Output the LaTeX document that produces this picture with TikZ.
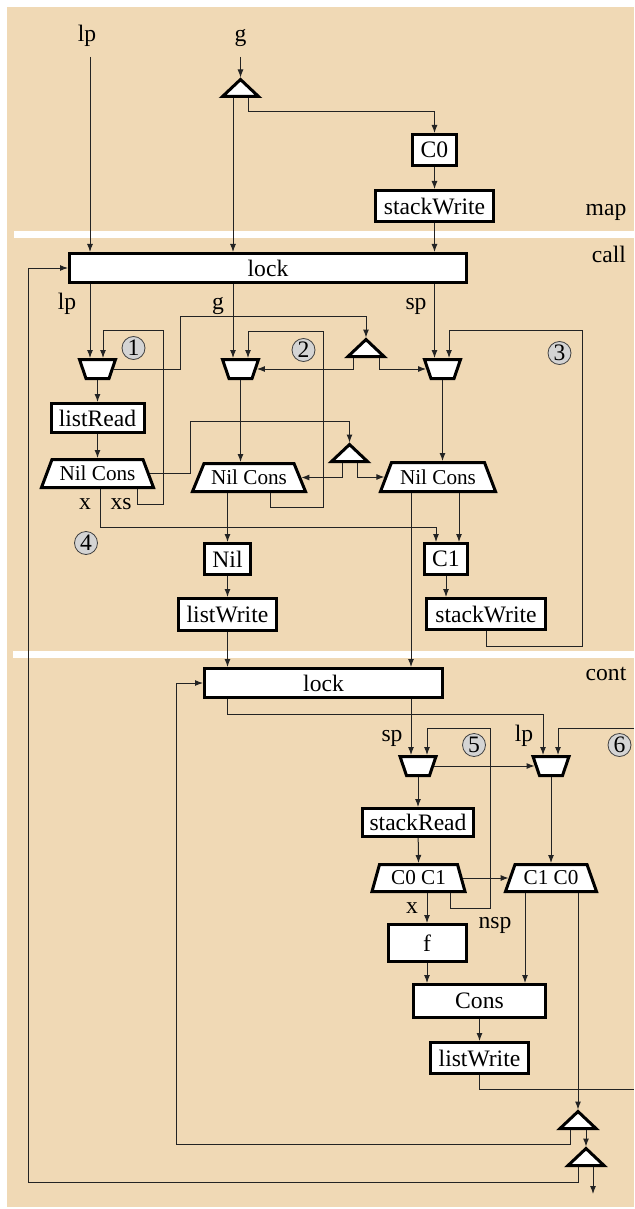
\documentclass[tikz,border=0pt]{standalone}
\usepackage{fontspec}
\setmainfont{Liberation Serif}
\usetikzlibrary{arrows.meta}
\definecolor{tanbg}{RGB}{240,217,181}
\definecolor{wirec}{RGB}{35,35,35}
\definecolor{circfill}{RGB}{212,212,212}
\newcommand\fsA{\fontsize{11.8pt}{14pt}\selectfont}
\newcommand\fsB{\fontsize{10.6pt}{12pt}\selectfont}
% mux: wider top
\newcommand\muxM[3]{%
 \draw[shp] ({#2-18},{#3-9.5}) -- ({#2+18},{#3-9.5}) -- ({#2+11.5},{#3+9.5}) -- ({#2-11.5},{#3+9.5}) -- cycle;
 \coordinate (#1) at (#2,#3);
 \coordinate (#1t) at (#2,{#3-11});
 \coordinate (#1b) at (#2,{#3+11});
 \coordinate (#1l) at ({#2-16.4},#3);
 \coordinate (#1r) at ({#2+16.4},#3);}
% demux: wider bottom
\newcommand\demuxD[7]{%
 \draw[shp] ({#2-#4},{#3-#6}) -- ({#2+#4},{#3-#6}) -- ({#2+#5},{#3+#6}) -- ({#2-#5},{#3+#6}) -- cycle;
 \node[dtxt] (#1) at (#2,#3) {#7};
 \coordinate (#1t) at (#2,{#3-#6-1.5});
 \coordinate (#1b) at (#2,{#3+#6+1.5});
 \coordinate (#1l) at ({#2-(#4+#5)/2-1.6},#3);
 \coordinate (#1r) at ({#2+(#4+#5)/2+1.6},#3);}
% triangle pointing up
\newcommand\triT[3]{%
 \draw[shp] ({#2-18},#3) -- (#2,{#3-17}) -- ({#2+18},#3) -- cycle;
 \coordinate (#1) at (#2,{#3-8});
 \coordinate (#1a) at (#2,{#3-19});
 \coordinate (#1c) at (#2,{#3+1.5});}
\begin{document}
\begin{tikzpicture}[x=0.5pt,y=-0.5pt,
  shp/.style={draw=black,line width=1.5pt,fill=white,line join=miter},
  box/.style={draw=black,line width=1.5pt,fill=white,inner sep=0pt,font=\fsA},
  dtxt/.style={inner sep=0pt,font=\fsB},
  lbl/.style={inner sep=0pt,anchor=base,font=\fsA},
  circ/.style={circle,draw=black!75,line width=0.4pt,fill=circfill,inner sep=0pt,minimum size=11.5pt,font=\fsA},
  w/.style={draw=wirec,line width=0.5pt},
  arr/.style={w,-{Latex[length=4pt,width=3pt]}}]
\useasboundingbox (0,0) rectangle (634,1209);
% background
\fill[tanbg] (7,7) rectangle (634,1207);
\fill[white] (14,231) rectangle (634,238);
\fill[white] (13,651) rectangle (634,658);

% section labels
\node[lbl] (lmap) at (606,216) {map};
\node[lbl] (lcall) at (609,263) {call};
\node[lbl] (lcont) at (606,680) {cont};

% ---------- boxes ----------
\node[box,minimum width=22pt,minimum height=15.5pt] (C0) at (434.5,150) {C0};
\node[box,minimum width=59pt,minimum height=15.5pt] (SW0) at (434.5,206) {stackWrite};
\node[box,minimum width=198.5pt,minimum height=14.5pt] (lockA) at (268,268) {lock};
\node[box,minimum width=46.5pt,minimum height=14.5pt] (listRead) at (97.5,418) {listRead};
\node[box,minimum width=23pt,minimum height=15.5pt] (Nil) at (227.5,559) {Nil};
\node[box,minimum width=49pt,minimum height=16pt] (LW1) at (227.5,614.5) {listWrite};
\node[box,minimum width=21.5pt,minimum height=15.5pt] (C1) at (446,559) {C1};
\node[box,minimum width=59.5pt,minimum height=15.5pt] (SW1) at (486,614) {stackWrite};
\node[box,minimum width=119pt,minimum height=14.5pt] (lockB) at (323.5,683) {lock};
\node[box,minimum width=55.5pt,minimum height=14pt] (stackRead) at (418,822.5) {stackRead};
\node[box,minimum width=39pt,minimum height=18.5pt] (f) at (427,943) {f};
\node[box,minimum width=66pt,minimum height=16.5pt] (Cons) at (479.5,1001) {Cons};
\node[box,minimum width=49pt,minimum height=15.5pt] (LW2) at (479.5,1058) {listWrite};

% ---------- muxes, demuxes, triangles ----------
\muxM{M1}{97.5}{369}
\muxM{M2}{240.5}{369}
\muxM{M3}{442.5}{369}
\muxM{M5}{418}{766}
\muxM{M6}{551}{766}
\demuxD{NC1}{97.5}{473.5}{45.5}{56}{14}{Nil Cons}
\demuxD{NC2}{249}{477.5}{45}{56.5}{14}{Nil Cons}
\demuxD{NC3}{438}{477}{46.5}{57.5}{14.5}{Nil Cons}
\demuxD{C01}{418.5}{878}{39}{46.5}{13.5}{C0 C1}
\demuxD{C10}{551}{878}{36}{45.5}{13.5}{C1 C0}
\triT{TG}{240.5}{96.5}
\triT{T1}{366}{356.5}
\triT{T2}{349.5}{461.5}
\triT{B1}{578}{1128.5}
\triT{B2}{586}{1165.5}

% ---------- circled numbers ----------
\node[circ] (n1) at (133.5,348) {1};
\node[circ] (n2) at (303.5,350) {2};
\node[circ] (n3) at (559.5,353) {3};
\node[circ] (n4) at (86,543) {4};
\node[circ] (n5) at (474,745) {5};
\node[circ] (n6) at (619.5,745) {6};

% ---------- labels ----------
\node[lbl] (tlp) at (87,42) {lp};
\node[lbl] (tg) at (240.5,42) {g};
\node[lbl] (clp) at (67,309) {lp};
\node[lbl] (cg) at (218,309) {g};
\node[lbl] (csp) at (416,309) {sp};
\node[lbl] (cx) at (85,509) {x};
\node[lbl] (cxs) at (121,509) {xs};
\node[lbl] (ksp) at (392,741) {sp};
\node[lbl] (klp) at (524,741) {lp};
\node[lbl] (kx) at (412,913) {x};
\node[lbl] (knsp) at (495,928) {nsp};

% ---------- free ends ----------
\coordinate (lpin) at (90,57);
\coordinate (gin) at (240.5,57);
\coordinate (rin1) at (634,728);
\coordinate (rout1) at (634,1089);
\coordinate (bout) at (593,1194);

% ---------- map wires ----------
\draw[arr] (lpin) -- (lpin |- lockA.north);
\draw[arr] (gin) -- (TGa);
\draw[arr] (TGc -| 233,0) -- (lockA.north -| 233,0);
\draw[arr] (TGc -| 248,0) |- (434.5,112) -- (C0.north);
\draw[arr] (C0) -- (SW0);
\draw[arr] (SW0.south) -- (SW0.south |- lockA.north);

% ---------- call wires ----------
\draw[arr] (B2c -| 578,0) |- (28,1182) |- (lockA.west);
\draw[arr] (lockA.south -| 90,0) -- (M1t -| 90,0);
\draw[arr] (lockA.south -| 233,0) -- (M2t -| 233,0);
\draw[arr] (lockA.south -| 434.5,0) -- (M3t -| 434.5,0);
\draw[arr] (NC1b -| 137,0) |- (163,504) |- (103,330) -- (M1t -| 103,0);
\draw[arr] (M1r) -| (180,316) -| (T1a);
\draw[arr] (T1c -| 353,0) |- (M2r);
\draw[arr] (T1c -| 379,0) |- (M3l);
\draw[arr] (M1b) -- (listRead);
\draw[arr] (listRead) -- (NC1t);
\draw[arr] (NC1r) -| (190,421) -| (T2a);
\draw[arr] (T2c -| 342,0) |- (NC2r);
\draw[arr] (T2c -| 357,0) |- (NC3l);
\draw[arr] (M2b) -- (M2b |- NC2t);
\draw[arr] (NC2b -| 270,0) |- (323,507) |- (248,331) -- (M2t -| 248,0);
\draw[arr] (M3b) -- (M3b |- NC3t);
\draw[arr] (SW1.south) |- (582,646) |- (449,330) -- (M3t -| 449,0);
\draw[arr] (NC1b -| 100,0) |- (436,527) -- (C1.north -| 436,0);
\draw[arr] (NC2b -| 227.5,0) -- (Nil);
\draw[arr] (Nil) -- (LW1);
\draw[arr] (LW1.south) -- (LW1.south |- lockB.north);
\draw[arr] (NC3b -| 459,0) -- (C1.north -| 459,0);
\draw[arr] (NC3b -| 411,0) -- (lockB.north -| 411,0);
\draw[arr] (C1.south) -- (SW1.north -| C1.south);

% ---------- cont wires ----------
\draw[arr] (B1c -| 570,0) |- (176,1144) |- (lockB.west);
\draw[arr] (lockB.south -| 227.5,0) |- (543,714) -- (M6t -| 543,0);
\draw[arr] (lockB.south -| 411,0) -- (M5t -| 411,0);
\draw[arr] (C01b -| 450,0) |- (490,908) |- (427,728) -- (M5t -| 427,0);
\draw[arr] (rin1) -| (M6t -| 558,0);
\draw[arr] (M5r) -- (M6l);
\draw[arr] (M5b) -- (stackRead);
\draw[arr] (stackRead) -- (C01t);
\draw[arr] (C01r) -- (C10l);
\draw[arr] (C01b -| 427,0) -- (f.north);
\draw[arr] (M6b) -- (C10t);
\draw[arr] (f.south) -- (f.south |- Cons.north);
\draw[arr] (C10b -| 525,0) -- (Cons.north -| 525,0);
\draw[arr] (Cons) -- (LW2);
\draw[w] (LW2.south) |- (rout1);
\draw[arr] (C10b -| 578,0) -- (B1a);
\draw[arr] (B1c -| 586,0) -- (B2a);
\draw[arr] (B2c -| 593,0) -- (bout);
\end{tikzpicture}
\end{document}
